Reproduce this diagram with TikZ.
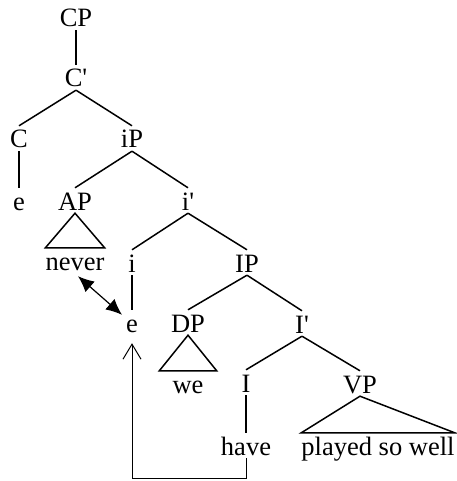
\documentclass[tikz,border=0pt]{standalone}
\usepackage{fontspec}
\setmainfont{Liberation Serif}
\usetikzlibrary{arrows.meta}
\begin{document}
\begin{tikzpicture}[x=1pt,y=-1pt,
  lab/.style={anchor=base,inner sep=0pt,text height=22pt,text depth=3pt,font=\fontsize{26.5}{30}\selectfont},
  br/.style={line width=1.5pt},
  tri/.style={line width=1.5pt,line join=miter},
  mv/.style={line width=1pt,-{Straight Barb[length=15pt,width=18pt,line width=1pt]}},
  dbl/.style={line width=1.2pt,{Latex[length=16pt,width=14pt]}-{Latex[length=16pt,width=14pt]}}
]
\useasboundingbox (0,0) rectangle (456,481);
\node[lab] (CP) at (76,27) {CP};
\node[lab] (C1) at (76,87) {C\textquotesingle};
\node[lab] (C) at (19,148) {C};
\node[lab] (iP) at (132,148) {iP};
\node[lab] (e1) at (19,210) {e};
\node[lab] (AP) at (75,210) {AP};
\node[lab] (i1) at (188,210) {i\textquotesingle};
\node[lab] (never) at (75,270) {never};
\node[lab] (i) at (132,272) {i};
\node[lab] (IP) at (247,272) {IP};
\node[lab] (e2) at (132,332) {e};
\node[lab] (DP) at (188,332) {DP};
\node[lab] (I1) at (302,333) {I\textquotesingle};
\node[lab,minimum width=57pt] (we) at (188,393) {we};
\node[lab] (I) at (246,392) {I};
\node[lab] (VP) at (360,393) {VP};
\node[lab] (have) at (246,455) {have};
\node[lab] (psw) at (378,455) {played so well};

\draw[br] (CP.south) -- (C1.north);
\draw[br] (C1.south) -- (C.north);
\draw[br] (C1.south) -- (iP.north);
\draw[br] (C.south) -- (e1.north);
\draw[br] (iP.south) -- (AP.north);
\draw[br] (iP.south) -- (i1.north);
\draw[tri] (AP.south) -- (never.north west) -- (never.north east) -- cycle;
\draw[br] (i1.south) -- (i.north);
\draw[br] (i1.south) -- (IP.north);
\draw[br] (i.south) -- (e2.north);
\draw[br] (IP.south) -- (DP.north);
\draw[br] (IP.south) -- (I1.north);
\draw[tri] (DP.south) -- (we.north west) -- (we.north east) -- cycle;
\draw[br] (I1.south) -- (I.north);
\draw[br] (I1.south) -- (VP.north);
\draw[br] (I.south) -- (have.north);
\draw[tri] (VP.south) -- (psw.north west) -- (psw.north east) -- cycle;

\draw[mv] (have.south) -- ++(0,20) -| ([yshift=-8pt]e2.south);
\draw[dbl] ([shift={(3pt,-3pt)}]never.south) -- ([shift={(-10pt,-5pt)}]e2.north);
\end{tikzpicture}
\end{document}
